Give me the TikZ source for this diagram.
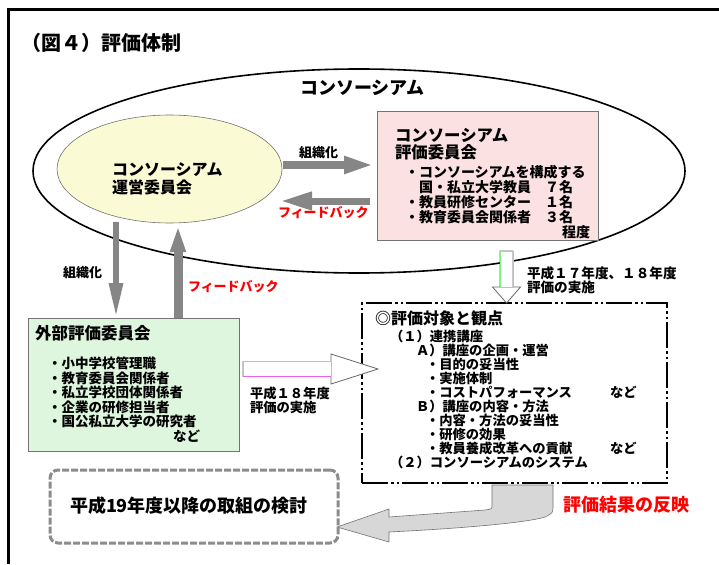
\documentclass[tikz,border=0pt]{standalone}
\usepackage{fontspec}
\setmainfont{Noto Sans CJK JP}
\usetikzlibrary{arrows.meta,calc,shapes.geometric}
\definecolor{creamfill}{HTML}{FAFAD4}
\definecolor{pinkfill}{HTML}{FBE1E1}
\definecolor{mintfill}{HTML}{DDF6DD}
\definecolor{arrowgray}{HTML}{868686}
\definecolor{swoosh}{HTML}{D7D7D7}
\definecolor{limeline}{HTML}{7CF07C}
\definecolor{pinkline}{HTML}{F060F0}
\newcommand\fsz[2]{\fontsize{#1}{#2}\selectfont\bfseries}
\tikzset{
  lbl/.style={inner sep=0pt, outer sep=0pt, anchor=west},
  blk/.style={inner sep=0pt, outer sep=0pt, anchor=north west, align=left},
  panel/.style={inner sep=0pt, outer sep=0pt, anchor=north west},
  hollow/.style={draw=black!60, fill=white, line width=0.8pt},
}
\begin{document}
\begin{tikzpicture}[x=1pt,y=-1pt]
\useasboundingbox (0,0) rectangle (719,564);
% frame and title
\draw[line width=3pt] (8,564) -- (8,10) -- (719,10);
\node[lbl, font=\fsz{20}{20}] (title) at (21,43) {（図４）評価体制};

% consortium
\draw[line width=1.6pt] (359,171) ellipse [x radius=326, y radius=102];
\node[lbl, font=\fsz{18}{18}] (ring) at (300,88) {コンソーシアム};

\node[ellipse, draw=black!55, line width=0.6pt, fill=creamfill, minimum width=225, minimum height=108, inner sep=0pt, outer sep=0pt] (unei) at (169.5,169) {};
\node[blk, font=\fsz{16}{18}] (ueitext) at (112,163) {コンソーシアム\\運営委員会};

\node[panel, draw=black!55, fill=pinkfill, minimum width=221, minimum height=129] (hyoka) at (377,111) {};
\node[blk, font=\fsz{16.4}{17}] (hyokatitle) at (395,128) {コンソーシアム\\評価委員会};
\node[blk, font=\fsz{14}{15}] (hyokalist) at (405,165) {・コンソーシアムを構成する\\　国・私立大学教員　７名\\・教員研修センター　１名\\・教育委員会関係者　３名\\\hspace*{157pt}程度};

% external committee
\node[panel, draw=black!55, fill=mintfill, minimum width=211, minimum height=133] (gaibu) at (28,318) {};
\node[lbl, font=\fsz{16.5}{16.5}] (gaibutitle) at (35,333) {外部評価委員会};
\node[blk, font=\fsz{13.5}{14.5}] (gaibulist) at (48,357) {・小中学校管理職\\・教育委員会関係者\\・私立学校団体関係者\\・企業の研修担当者\\・国公私立大学の研究者\\\hspace*{125pt}など};

% criteria
\node[panel, draw, line width=2pt, dash pattern=on 26pt off 3pt on 2.5pt off 3pt on 2.5pt off 3pt, minimum width=305, minimum height=180] (kanten) at (362,303) {};
\node[lbl, font=\fsz{16}{16}] (kantentitle) at (375,318) {◎評価対象と観点};
\node[blk, font=\fsz{13.3}{14}] (kantenlist) at (390,330) {（１）連携講座\\
\hspace*{26pt}Ａ）講座の企画・運営\\
\hspace*{36pt}・目的の妥当性\\
\hspace*{36pt}・実施体制\\
\hspace*{36pt}\makebox[184pt][l]{・コストパフォーマンス}など\\
\hspace*{26pt}Ｂ）講座の内容・方法\\
\hspace*{36pt}・内容・方法の妥当性\\
\hspace*{36pt}・研修の効果\\
\hspace*{36pt}\makebox[184pt][l]{・教員養成改革への貢献}など\\
（２）コンソーシアムのシステム};

% next step
\node[panel, draw=black!45, line width=3pt, dash pattern=on 7pt off 2pt, rounded corners=8pt, minimum width=288, minimum height=73] (kento) at (50,470) {};
\node[lbl, font=\fsz{18}{18}] (kentotext) at (70,506) {平成19年度以降の取組の検討};
\node[lbl, font=\fsz{18}{18}, text=red] (hanei) at (563,505) {評価結果の反映};

% gray arrows
\draw[draw=arrowgray, line width=8pt, -{Triangle[length=30pt,width=16pt]}] ($(unei.east)+(1,-4)$) -- ($(hyoka.west)+(-3,-10.5)$);
\draw[draw=arrowgray, line width=7pt, -{Triangle[length=32pt,width=17pt]}] ($(hyoka.west)+(-7,25.5)$) -- ($(unei.east)+(-2,32)$);
\draw[draw=arrowgray, line width=6pt, -{Triangle[length=35pt,width=13pt]}] ($(unei.south)+(-53.5,-1)$) -- ($(gaibu.north)+(-17.5,0)$);
\draw[draw=arrowgray, line width=9pt, -{Triangle[length=27pt,width=14pt]}] ($(gaibu.north)+(44.5,0)$) -- ($(unei.south)+(8.5,2)$);
\node[lbl, font=\fsz{13}{13}] (sosiki1) at (299,153) {組織化};
\node[lbl, font=\fsz{13}{13}, text=red] (fb1) at (278,213) {フィードバック};
\node[lbl, font=\fsz{13}{13}] (sosiki2) at (63,273) {組織化};
\node[lbl, font=\fsz{13}{13}, text=red] (fb2) at (188,287) {フィードバック};

% hollow arrows
\coordinate (h18s) at ($(gaibu.east)+(4,-15.5)$);
\coordinate (h18e) at ($(kanten.west)+(16,-24)$);
\filldraw[hollow] ($(h18s)+(0,-7.5)$) -- ($(h18e)+(-47,-7.5)$) -- ($(h18e)+(-47,-15)$) -- (h18e) -- ($(h18e)+(-47,15)$) -- ($(h18e)+(-47,7.5)$) -- ($(h18s)+(0,7.5)$) -- cycle;
\draw[limeline, line width=1pt] ($(h18s)+(0,7.5)$) -- ($(h18s)+(0,-7.5)$) -- ($(h18e)+(-47,-7.5)$) -- ($(h18e)+(-47,7.5)$);
\draw[pinkline, line width=1pt] ($(h18s)+(0,7.5)$) -- ($(h18e)+(-47,7.5)$);
\node[blk, font=\fsz{13.3}{14}] (h18text) at (250,387) {平成１８年度\\評価の実施};

\coordinate (h17s) at ($(hyoka.south)+(19,11)$);
\coordinate (h17e) at ($(kanten.north)+(-8,0)$);
\filldraw[hollow] ($(h17s)+(-6.5,0)$) -- ($(h17e)+(-6.5,-16)$) -- ($(h17e)+(-14,-16)$) -- (h17e) -- ($(h17e)+(14,-16)$) -- ($(h17e)+(6.5,-16)$) -- ($(h17s)+(6.5,0)$) -- cycle;
\draw[limeline, line width=1pt] ($(h17s)+(-6.5,0)$) rectangle ($(h17e)+(6.5,-16)$);
\node[blk, font=\fsz{13.6}{14}] (h17text) at (527,267) {平成１７年度、１８年度\\評価の実施};

% feedback of results
\filldraw[draw=black!55, fill=swoosh, line width=0.6pt] (492,485) -- (492,505) .. controls (492,509) .. (485,510) -- (389,517) -- (389,509) -- (337,527) -- (389,542) -- (389,532) .. controls (470,528) and (530,522) .. (545,517) .. controls (553,513) .. (553,505) -- (553,485) -- cycle;
\end{tikzpicture}
\end{document}
